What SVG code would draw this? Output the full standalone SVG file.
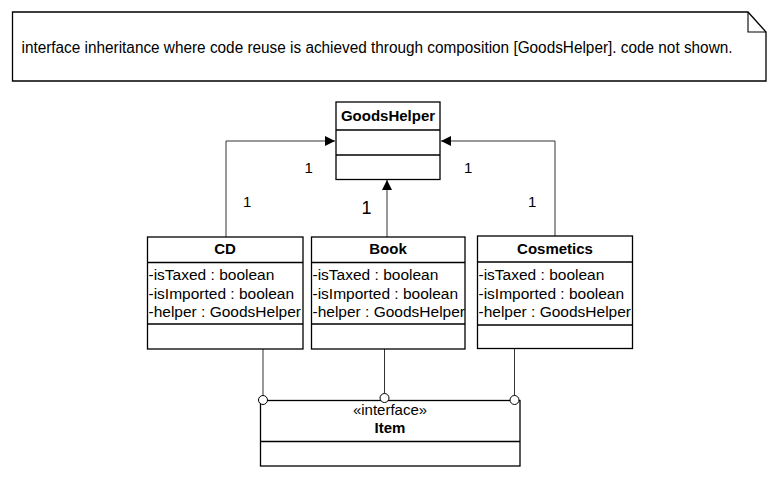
<svg xmlns="http://www.w3.org/2000/svg" width="774" height="478" viewBox="0 0 774 478">
<style>
  text { font-family: "Liberation Sans", Arial, sans-serif; fill: #000; }
  .box { fill: #fff; stroke: #000; stroke-width: 1.3; }
  .sep { stroke: #000; stroke-width: 1.3; }
  .conn { fill: none; stroke: #333; stroke-width: 1; }
  .hdr { font-size: 15px; font-weight: bold; text-anchor: middle; }
  .attr { font-size: 15.5px; }
  .mult { font-size: 15px; }
  .lolly { fill: #fff; stroke: #000; stroke-width: 1; }
</style>
<defs>
  <marker id="arr" viewBox="0 0 10 10" refX="10" refY="5" markerWidth="10" markerHeight="10" markerUnits="userSpaceOnUse" orient="auto">
    <path d="M0,0 L10,5 L0,10 Z" fill="#000"/>
  </marker>
</defs>
<rect width="774" height="478" fill="#fff"/>

<g id="note">
  <path class="box" d="M12.5,12 H748 L766,32 V81 H12.5 Z"/>
  <path fill="none" stroke="#000" stroke-width="1.1" d="M748,12 V32 H766"/>
  <text x="21.5" y="53" font-size="16" textLength="711" lengthAdjust="spacingAndGlyphs">interface inheritance where code reuse is achieved through composition [GoodsHelper]. code not shown.</text>
</g>

<g id="connectors">
  <polyline class="conn" points="226,237 226,141 335,141" marker-end="url(#arr)"/>
  <polyline class="conn" points="387,237 387,180" marker-end="url(#arr)"/>
  <polyline class="conn" points="555,236 555,141 441,141" marker-end="url(#arr)"/>
  <line class="conn" x1="263" y1="349" x2="263" y2="395.5"/>
  <line class="conn" x1="384.5" y1="349" x2="384.5" y2="393.5"/>
  <line class="conn" x1="514.5" y1="348" x2="514.5" y2="395.5"/>
  <text class="mult" x="304.5" y="173">1</text>
  <text class="mult" x="243" y="207">1</text>
  <text x="361.5" y="213.5" font-size="18">1</text>
  <text class="mult" x="464" y="173">1</text>
  <text class="mult" x="528" y="207">1</text>
</g>

<g id="GoodsHelper">
  <rect class="box" x="336" y="102" width="104" height="77.5"/>
  <line class="sep" x1="336" y1="130" x2="440" y2="130"/>
  <line class="sep" x1="336" y1="155" x2="440" y2="155"/>
  <text class="hdr" x="388" y="121">GoodsHelper</text>
</g>

<g id="CD">
  <rect class="box" x="147.5" y="237" width="155.5" height="112"/>
  <line class="sep" x1="147.5" y1="262.5" x2="303" y2="262.5"/>
  <line class="sep" x1="147.5" y1="324" x2="303" y2="324"/>
  <text class="hdr" x="225" y="254">CD</text>
  <text class="attr" x="148.5" y="280">-isTaxed : boolean</text>
  <text class="attr" x="148.5" y="298.5">-isImported : boolean</text>
  <text class="attr" x="148.5" y="316.5">-helper : GoodsHelper</text>
</g>

<g id="Book">
  <rect class="box" x="311.5" y="237" width="153.5" height="112"/>
  <line class="sep" x1="311.5" y1="262.5" x2="465" y2="262.5"/>
  <line class="sep" x1="311.5" y1="324" x2="465" y2="324"/>
  <text class="hdr" x="388" y="254">Book</text>
  <text class="attr" x="312.5" y="280">-isTaxed : boolean</text>
  <text class="attr" x="312.5" y="298.5">-isImported : boolean</text>
  <text class="attr" x="312.5" y="316.5">-helper : GoodsHelper</text>
</g>

<g id="Cosmetics">
  <rect class="box" x="477.5" y="236" width="155" height="112.5"/>
  <line class="sep" x1="477.5" y1="262" x2="632.5" y2="262"/>
  <line class="sep" x1="477.5" y1="325" x2="632.5" y2="325"/>
  <text class="hdr" x="555" y="254">Cosmetics</text>
  <text class="attr" x="478.5" y="280">-isTaxed : boolean</text>
  <text class="attr" x="478.5" y="298.5">-isImported : boolean</text>
  <text class="attr" x="478.5" y="316.5">-helper : GoodsHelper</text>
</g>

<g id="Item">
  <rect class="box" x="260.5" y="400.5" width="259.5" height="65.5"/>
  <line class="sep" x1="260.5" y1="441.5" x2="520" y2="441.5"/>
  <text x="390" y="415" font-size="15" text-anchor="middle">«interface»</text>
  <text class="hdr" x="390" y="433">Item</text>
  <circle class="lolly" cx="263" cy="400" r="4.5"/>
  <circle class="lolly" cx="384.5" cy="398" r="4.5"/>
  <circle class="lolly" cx="514.5" cy="400" r="4.5"/>
</g>
</svg>
